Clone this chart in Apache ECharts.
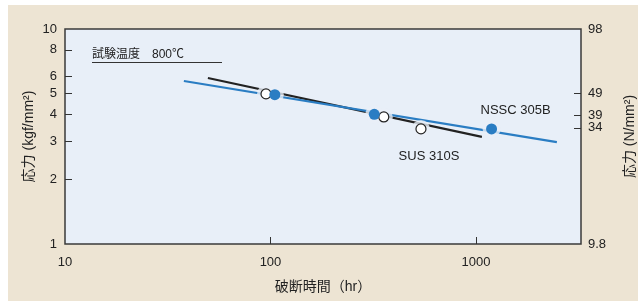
<!DOCTYPE html>
<html>
<head>
<meta charset="utf-8">
<script src="https://cdn.jsdelivr.net/npm/echarts@6/dist/echarts.min.js"></script>
<style>
  html, body { margin: 0; padding: 0; background: #fff; }
  #chart { width: 638px; height: 301px; }
</style>
</head>
<body>
<div id="chart"></div>
<script>
// rupture time (hr) vs stress (kgf/mm2), log-log
var xLabels = [10, 100, 1000];
var xTicks = [100, 1000];
var yLabels = [1, 2, 3, 4, 5, 6, 8, 10];
var yTicks = [2, 3, 4, 5, 6, 8];
var yRightLabels = [9.8, 34, 39, 49, 98];
var yRightTicks = [34, 39, 49];

// fitted lines (end points)
var susLine = [[49.6, 5.92], [1069, 3.15]];
var nsscLine = [[37.9, 5.73], [2476, 2.98]];
// test points
var susPoints = [[95.1, 4.99], [356, 3.9], [540, 3.43]];
var nsscPoints = [[105, 4.95], [320, 4.01], [1191, 3.43]];

var font = '"Liberation Sans", "Noto Sans CJK JP", sans-serif';
var plotBg = '#e8eff8';
var blue = '#2a7dc3';
var black = '#222';

var myChart = echarts.init(document.getElementById('chart'));

var option = {
    backgroundColor: '#fff',
    animation: false,
    textStyle: { fontFamily: font },
    graphic: [
        { type: 'rect', left: 8, top: 5, shape: { width: 630, height: 296 }, style: { fill: '#ede4d3' }, z: -10 },
        { type: 'text', left: 92, top: 48.5, style: { text: '試験温度　800℃', font: '12px ' + font, fill: '#222' }, z: 10 },
        { type: 'line', shape: { x1: 92, y1: 62.5, x2: 222, y2: 62.5 }, style: { stroke: '#333', lineWidth: 1 }, z: 10 }
    ],
    grid: {
        left: 65, right: 57, top: 29, bottom: 57,
        outerBoundsMode: 'none',
        containLabel: false,
        show: true,
        backgroundColor: plotBg,
        borderColor: '#3a3a3a',
        borderWidth: 1.5
    },
    xAxis: {
        type: 'log', logBase: 10, min: 10, max: 3245,
        name: '破断時間（hr）', nameLocation: 'middle', nameGap: 36, nameMoveOverlap: false,
        nameTextStyle: { fontSize: 14, color: '#222', fontFamily: font },
        axisLine: { show: false },
        axisTick: { inside: true, length: 7, customValues: xTicks, lineStyle: { color: '#333' } },
        axisLabel: {
            customValues: xLabels, fontSize: 13, color: '#222', margin: 12,
            formatter: function (v) { return String(Math.round(v)); }
        },
        splitLine: { show: false },
        minorTick: { show: false }
    },
    yAxis: [{
        type: 'log', logBase: 10, min: 1, max: 10,
        name: '応力 (kgf/mm²)', nameLocation: 'middle', nameGap: 29, nameRotate: 90, nameMoveOverlap: false,
        nameTextStyle: { fontSize: 14, color: '#222', fontFamily: font },
        axisLine: { show: false },
        axisTick: { inside: true, length: 7, customValues: yTicks, lineStyle: { color: '#333' } },
        axisLabel: { customValues: yLabels, fontSize: 13, color: '#222', margin: 8 },
        splitLine: { show: false }
    }, {
        type: 'log', logBase: 10, min: 9.8, max: 98, position: 'right',
        alignTicks: false,
        name: '応力 (N/mm²)', nameLocation: 'middle', nameGap: 42, nameRotate: 90, nameMoveOverlap: false,
        nameTextStyle: { fontSize: 14, color: '#222', fontFamily: font },
        axisLine: { show: false },
        axisTick: { inside: true, length: 7, customValues: yRightTicks, lineStyle: { color: '#333' } },
        axisLabel: {
            customValues: yRightLabels, fontSize: 13, color: '#222', margin: 7,
            formatter: function (v) { return String(Math.round(v * 10) / 10); }
        },
        splitLine: { show: false }
    }],
    series: [{
        name: 'SUS 310S line', type: 'line', data: susLine, showSymbol: false,
        lineStyle: { color: black, width: 2.2 }, z: 2
    }, {
        name: 'NSSC 305B line', type: 'line', data: nsscLine, showSymbol: false,
        lineStyle: { color: blue, width: 2.2 }, z: 2
    }, {
        // gaps in the lines round the markers
        type: 'scatter', data: susPoints.concat(nsscPoints), symbolSize: 18,
        itemStyle: { color: plotBg }, silent: true, z: 3
    }, {
        name: 'SUS 310S', type: 'scatter', data: susPoints, symbolSize: 10,
        itemStyle: { color: '#fff', borderColor: black, borderWidth: 1.2, opacity: 1 },
        label: {
            show: true, position: 'inside', offset: [8, 28], fontSize: 13, color: '#222',
            formatter: function (p) { return p.dataIndex === 2 ? 'SUS 310S' : ''; }
        },
        z: 4
    }, {
        name: 'NSSC 305B', type: 'scatter', data: nsscPoints, symbolSize: 11,
        itemStyle: { color: blue, opacity: 1 },
        label: {
            show: true, position: 'inside', offset: [24, -18], fontSize: 13, color: '#222',
            formatter: function (p) { return p.dataIndex === 2 ? 'NSSC 305B' : ''; }
        },
        z: 5
    }]
};

myChart.setOption(option);
</script>
</body>
</html>
